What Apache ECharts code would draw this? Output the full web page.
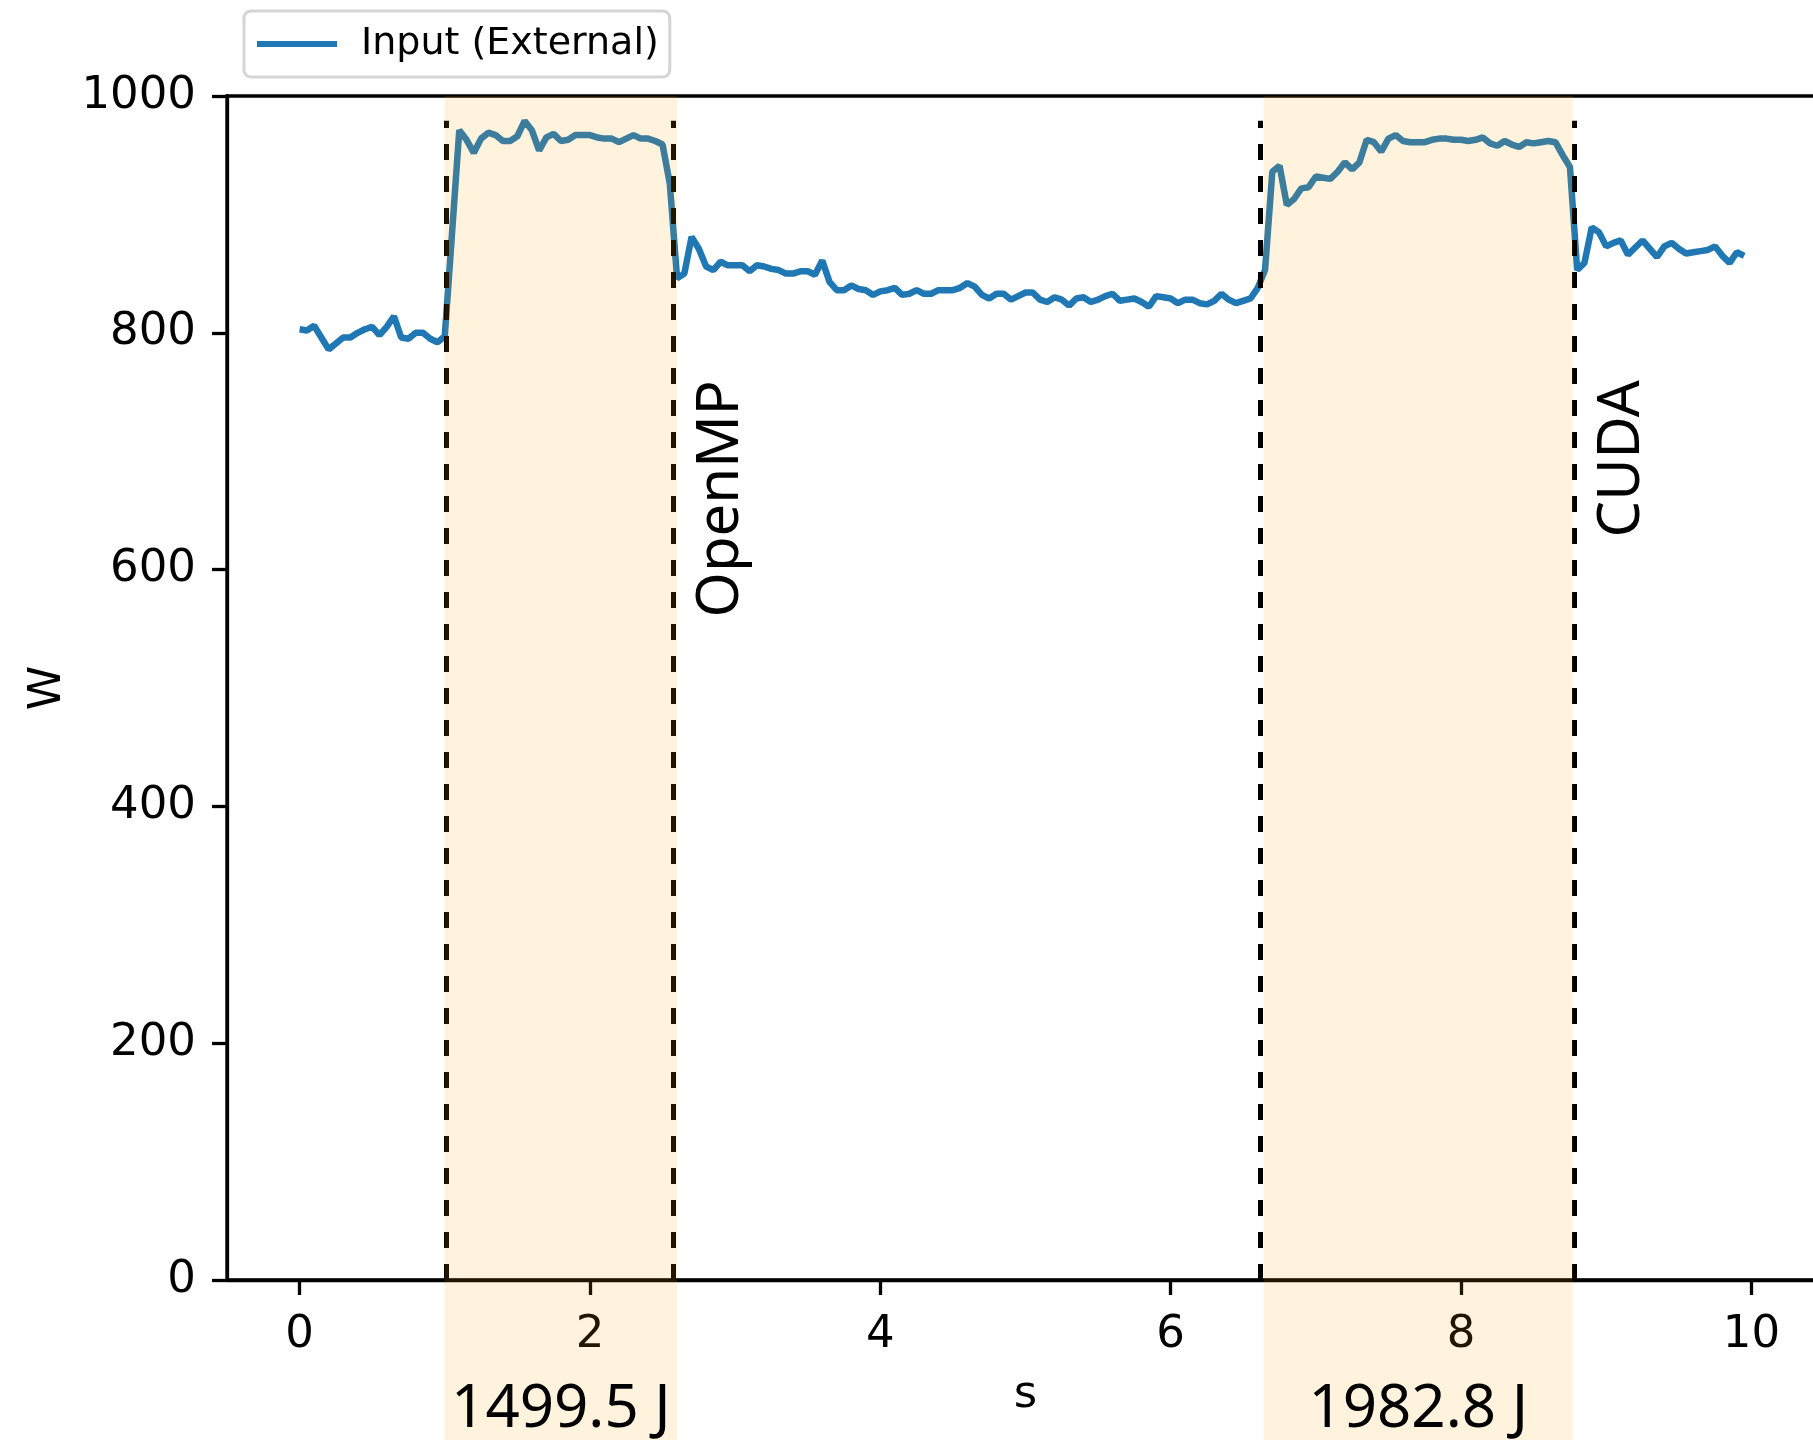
<!DOCTYPE html>
<html>
<head>
<meta charset="utf-8">
<script src="https://cdn.jsdelivr.net/npm/echarts@6/dist/echarts.min.js"></script>
<style>
  html, body { margin: 0; padding: 0; background: #fff; }
  #chart { width: 1813px; height: 1440px; }
</style>
</head>
<body>
<div id="chart"></div>
<script>
// sampling step of the power meter (s)
const dt = 0.05
// input power (W), one value per sample
const inputPower = [
  803, 802, 806, 796, 786, 791, 796, 796, 800, 803, 805, 798, 805, 814, 796, 795, 800, 800, 795, 792,
  797, 884, 971, 963, 952, 964, 969, 967, 962, 962, 966, 979, 971, 954, 965, 968, 962, 963, 967, 967,
  967, 965, 964, 964, 961, 964, 967, 964, 964, 962, 959, 926, 846, 850, 881, 871, 856, 853, 860, 857,
  857, 857, 852, 857, 856, 854, 853, 850, 850, 852, 852, 849, 861, 843, 836, 836, 840, 837, 836, 832,
  835, 836, 838, 832, 833, 836, 833, 833, 836, 836, 836, 838, 842, 839, 832, 829, 833, 833, 828, 831,
  834, 834, 828, 826, 830, 828, 823, 829, 830, 826, 828, 831, 833, 827, 828, 829, 826, 822, 831, 830,
  829, 825, 828, 828, 825, 824, 827, 833, 828, 825, 827, 829, 838, 853, 936, 941, 908, 913, 922, 923,
  932, 931, 930, 936, 944, 938, 944, 963, 961, 953, 964, 967, 962, 961, 961, 961, 963, 964, 964, 963,
  963, 962, 963, 965, 960, 958, 962, 959, 957, 961, 960, 961, 962, 961, 950, 940, 853, 859, 889, 885,
  873, 876, 878, 866, 872, 878, 871, 864, 873, 876, 871, 867, 868, 869, 870, 873, 865, 859, 868, 865
]
// shaded kernel windows (s) and their energy
const spans = [[1.0, 2.6], [6.64, 8.77]]
const spanLabels = ['1499.5 J', '1982.8 J']
// dashed start/end markers (s)
const markerLines = [1.01, 2.575, 6.62, 8.78]
const markerNames = ['OpenMP', 'CUDA']
const markerNameAt = [2.575, 8.78]
const markerNameTop = 760
const xTicks = [0, 2, 4, 6, 8, 10]

const shade = 'rgba(255,165,0,0.13)'
const peak = Math.max(...inputPower)
const points = inputPower.map((v, i) => [+(i * dt).toFixed(2), v])

const chart = echarts.init(document.getElementById('chart'))

const option = {
  animation: false,
  backgroundColor: '#fff',
  textStyle: { fontFamily: 'DejaVu Sans' },
  legend: {
    data: [{ name: 'Input (External)', icon: 'rect' }],
    left: 244,
    top: 11,
    itemWidth: 80,
    itemHeight: 6,
    padding: [11, 11, 11, 13],
    borderColor: '#d5d5d5',
    borderWidth: 3,
    borderRadius: 7,
    backgroundColor: '#fff',
    textStyle: { fontSize: 38, color: '#000', padding: [0, 0, 0, 19], lineHeight: 44 }
  },
  grid: [
    {
      left: 227, top: 96, width: 1597, height: 1184,
      outerBoundsMode: 'none',
      show: true, borderColor: '#000', borderWidth: 3.3
    },
    { left: 227, top: 1280, width: 1597, height: 160, outerBoundsMode: 'none' }
  ],
  xAxis: [
    {
      type: 'value',
      gridIndex: 0,
      min: -0.5,
      max: 10.5,
      name: 's',
      nameLocation: 'middle',
      nameGap: 93,
      nameTextStyle: { fontSize: 45, color: '#000' },
      axisLine: { onZero: false, lineStyle: { color: '#000', width: 3.3 } },
      axisTick: { show: true, length: 15, lineStyle: { color: '#000', width: 3.3 }, customValues: xTicks },
      axisLabel: { fontSize: 45, color: '#000', margin: 33, customValues: xTicks },
      splitLine: { show: false }
    },
    { type: 'value', gridIndex: 1, min: -0.5, max: 10.5, show: false }
  ],
  yAxis: [
    {
      type: 'value',
      gridIndex: 0,
      min: 0,
      max: 1000,
      interval: 200,
      name: 'W',
      nameLocation: 'middle',
      nameGap: 153,
      nameTextStyle: { fontSize: 45, color: '#000' },
      axisLine: { show: true, onZero: false, lineStyle: { color: '#000', width: 3.3 } },
      axisTick: { show: true, length: 15, lineStyle: { color: '#000', width: 3.3 } },
      axisLabel: { fontSize: 45, color: '#000', margin: 31, formatter: v => String(v) },
      splitLine: { show: false }
    },
    { type: 'value', gridIndex: 1, min: 0, max: 1, show: false }
  ],
  series: [
    {
      name: 'Input (External)',
      type: 'line',
      data: points,
      color: '#1f77b4',
      symbol: 'none',
      lineStyle: { color: '#1f77b4', width: 6.5 },
      z: 2,
      markLine: {
        silent: true,
        z: 5,
        symbol: ['none', 'none'],
        label: { show: false },
        lineStyle: { color: '#000', width: 5, type: [16, 16] },
        data: markerLines.map(x => [{ coord: [x, 0] }, { coord: [x, peak] }])
      }
    },
    {
      name: 'spans',
      type: 'line',
      data: [],
      z: 10,
      markArea: {
        silent: true,
        z: 10,
        itemStyle: { color: shade },
        data: spans.map(s => [{ xAxis: s[0] }, { xAxis: s[1] }])
      }
    },
    {
      name: 'spansBelow',
      type: 'line',
      xAxisIndex: 1,
      yAxisIndex: 1,
      data: [],
      z: 10,
      markArea: {
        silent: true,
        z: 10,
        itemStyle: { color: shade },
        label: { show: true, position: 'inside', offset: [0, 50], fontSize: 60, fontFamily: 'Noto Sans', color: '#000' },
        data: spans.map((s, i) => [{ xAxis: s[0], name: spanLabels[i] }, { xAxis: s[1] }])
      }
    }
  ]
}

chart.setOption(option)

// rotated run names next to the closing marker lines
chart.setOption({
  graphic: markerNames.map((t, i) => {
    const p = chart.convertToPixel({ gridIndex: 0 }, [markerNameAt[i], markerNameTop])
    return {
      type: 'text',
      x: p[0] + 19,
      y: p[1],
      rotation: Math.PI / 2,
      z: 20,
      style: {
        text: t,
        fontSize: 58,
        fontFamily: 'Noto Sans',
        fill: '#000',
        align: 'right',
        verticalAlign: 'top'
      }
    }
  })
})
</script>
</body>
</html>
